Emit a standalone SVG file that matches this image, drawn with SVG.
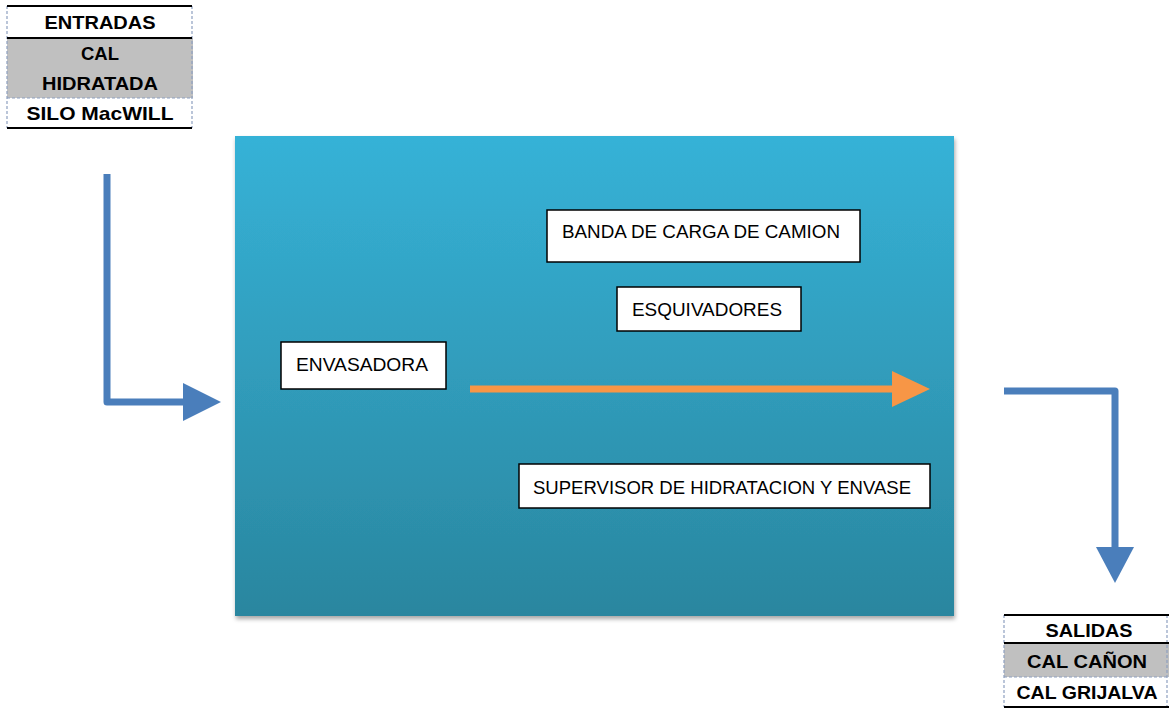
<svg xmlns="http://www.w3.org/2000/svg" width="1169" height="709" viewBox="0 0 1169 709">
<style>
.tb{font-family:"Liberation Sans",Arial,sans-serif;font-weight:bold;font-size:19px;fill:#000;text-anchor:middle}
.bx{font-family:"Liberation Sans",Arial,sans-serif;font-size:18px;fill:#000}
.box{fill:#fff;stroke:#000;stroke-width:1.5}
.blk{stroke:#000;stroke-width:2}
.dsh{stroke:#8ea0c0;stroke-width:1.2;stroke-dasharray:3 2;fill:none}
.blue{stroke:#4a7ebb;stroke-width:7;fill:none;stroke-linejoin:round}
</style>
<defs>
<linearGradient id="g" x1="0" y1="0" x2="0" y2="1">
<stop offset="0" stop-color="#36b2d7"/>
<stop offset="1" stop-color="#2a869f"/>
</linearGradient>
<filter id="sh" x="-5%" y="-5%" width="110%" height="110%">
<feDropShadow dx="1" dy="3" stdDeviation="2" flood-color="#000" flood-opacity="0.35"/>
</filter>
</defs>
<rect width="1169" height="709" fill="#fff"/>
<g id="entradas">
<rect x="7" y="38" width="186" height="60" fill="#c0c0c0"/>
<line class="dsh" x1="7" y1="6" x2="7" y2="128"/>
<line class="dsh" x1="192" y1="6" x2="192" y2="128"/>
<line class="dsh" x1="7" y1="98" x2="192" y2="98"/>
<line class="blk" x1="7" y1="6" x2="192" y2="6"/>
<line class="blk" x1="7" y1="38" x2="192" y2="38"/>
<line class="blk" x1="7" y1="128" x2="192" y2="128"/>
<text class="tb" x="100" y="29" textLength="111" lengthAdjust="spacingAndGlyphs">ENTRADAS</text>
<text class="tb" x="100" y="60" textLength="38" lengthAdjust="spacingAndGlyphs">CAL</text>
<text class="tb" x="100" y="90" textLength="116" lengthAdjust="spacingAndGlyphs">HIDRATADA</text>
<text class="tb" x="100" y="120" textLength="147" lengthAdjust="spacingAndGlyphs">SILO MacWILL</text>
</g>
<g id="salidas">
<rect x="1004" y="643" width="165" height="34" fill="#c0c0c0"/>
<line class="dsh" x1="1004" y1="615" x2="1004" y2="707"/>
<line class="dsh" x1="1167" y1="615" x2="1167" y2="707"/>
<line class="dsh" x1="1004" y1="677" x2="1169" y2="677"/>
<line class="blk" x1="1004" y1="615" x2="1169" y2="615"/>
<line class="blk" x1="1004" y1="643" x2="1169" y2="643"/>
<line class="blk" x1="1004" y1="707" x2="1169" y2="707"/>
<text class="tb" x="1089" y="637" textLength="87" lengthAdjust="spacingAndGlyphs">SALIDAS</text>
<text class="tb" x="1087" y="668" textLength="120" lengthAdjust="spacingAndGlyphs">CAL CAÑON</text>
<text class="tb" x="1087" y="699" textLength="141" lengthAdjust="spacingAndGlyphs">CAL GRIJALVA</text>
</g>
<g id="proceso">
<rect x="235" y="136" width="719" height="480" fill="url(#g)" filter="url(#sh)"/>
</g>
<g id="banda">
<rect class="box" x="547" y="210" width="313" height="52"/>
<text class="bx" x="562" y="238" textLength="278" lengthAdjust="spacingAndGlyphs">BANDA DE CARGA DE CAMION</text>
</g>
<g id="esquivadores">
<rect class="box" x="617" y="287" width="184" height="44"/>
<text class="bx" x="632" y="316" textLength="150" lengthAdjust="spacingAndGlyphs">ESQUIVADORES</text>
</g>
<g id="envasadora">
<rect class="box" x="281" y="342" width="165" height="47"/>
<text class="bx" x="296" y="371" textLength="132" lengthAdjust="spacingAndGlyphs">ENVASADORA</text>
</g>
<g id="supervisor">
<rect class="box" x="519" y="464" width="411" height="44"/>
<text class="bx" x="533" y="494" textLength="378" lengthAdjust="spacingAndGlyphs">SUPERVISOR DE HIDRATACION Y ENVASE</text>
</g>
<g id="connectors">
<polyline class="blue" points="107,174 107,402 185,402"/>
<polygon points="183,383 221,402 183,421" fill="#4a7ebb"/>
<polyline class="blue" points="1004,391 1115,391 1115,549"/>
<polygon points="1096,547 1134,547 1115,583" fill="#4a7ebb"/>
<line x1="470" y1="389" x2="895" y2="389" stroke="#f79646" stroke-width="7"/>
<polygon points="892,371 930,389 892,407" fill="#f79646"/>
</g>
</svg>
